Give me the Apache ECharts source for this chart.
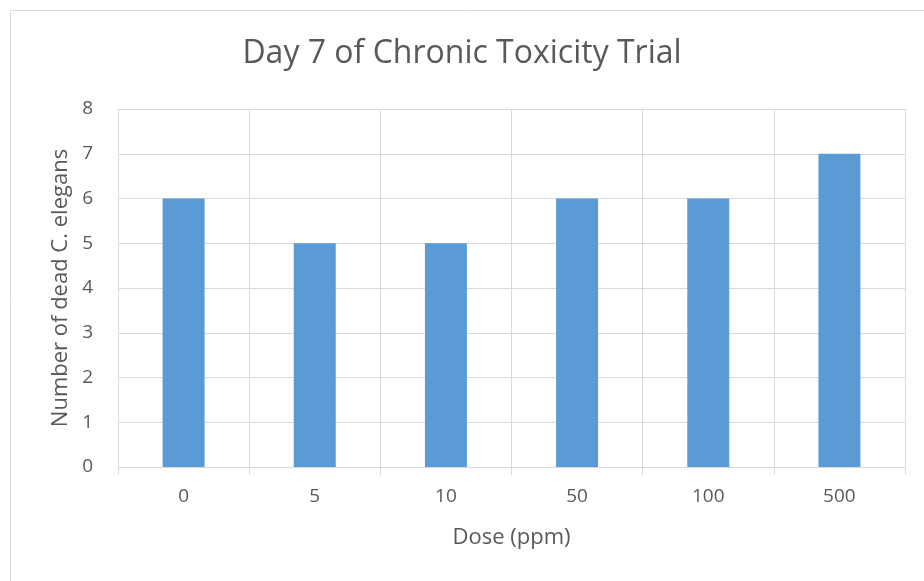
<!DOCTYPE html>
<html>
<head>
<meta charset="utf-8">
<script src="https://cdn.jsdelivr.net/npm/echarts@6/dist/echarts.min.js"></script>
<style>
  html, body { margin: 0; padding: 0; background: #fff; }
  #chart { width: 924px; height: 581px; }
</style>
</head>
<body>
<div id="chart"></div>
<script>
// chart data
const doses = ['0', '5', '10', '50', '100', '500']
const deadCount = [6, 5, 5, 6, 6, 7]

const chart = echarts.init(document.getElementById('chart'))
const fontFamily = 'Open Sans'
const textColor = '#595959'
const gridColor = '#d9d9d9'

const option = {
  animation: false,
  textStyle: { fontFamily: fontFamily },
  title: {
    text: 'Day 7 of Chronic Toxicity Trial',
    left: 'center',
    top: 33,
    textStyle: { fontFamily: fontFamily, fontSize: 32, fontWeight: 'normal', color: textColor }
  },
  graphic: [{
    type: 'rect',
    shape: { x: 10.5, y: 10.5, width: 940, height: 600 },
    style: { fill: 'none', stroke: gridColor, lineWidth: 1 },
    silent: true
  }],
  grid: { left: 118, right: 19, top: 109, bottom: 114 },
  xAxis: {
    type: 'category',
    data: doses,
    name: 'Dose (ppm)',
    nameLocation: 'middle',
    nameGap: 60,
    nameTextStyle: { fontSize: 22, color: textColor },
    axisLine: { lineStyle: { color: gridColor } },
    axisTick: { show: true, length: 8, lineStyle: { color: gridColor } },
    axisLabel: { fontSize: 19, color: textColor, margin: 20 },
    splitLine: { show: true, lineStyle: { color: gridColor } }
  },
  yAxis: {
    type: 'value',
    min: 0,
    max: 8,
    interval: 1,
    name: 'Number of dead C. elegans',
    nameLocation: 'middle',
    nameGap: 45,
    nameTextStyle: { fontSize: 22, color: textColor },
    axisLine: { show: false },
    axisTick: { show: false },
    axisLabel: { fontSize: 19, color: textColor, margin: 25 },
    splitLine: { lineStyle: { color: gridColor } }
  },
  series: [{
    type: 'bar',
    data: deadCount,
    barWidth: '32%',
    itemStyle: { color: '#5b9bd5' }
  }]
}

chart.setOption(option)
</script>
</body>
</html>
